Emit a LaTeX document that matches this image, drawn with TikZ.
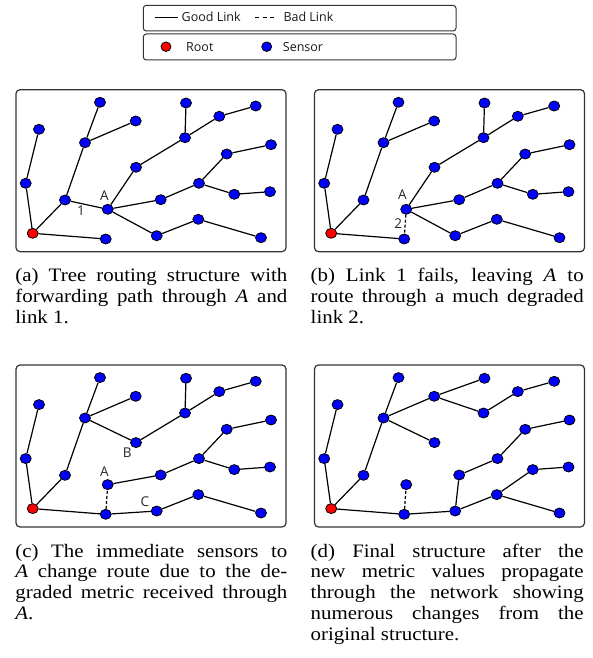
\documentclass[tikz,border=0pt]{standalone}
\usepackage{fontspec}
\setmainfont{Liberation Serif}[FakeStretch=1.1]
\newfontfamily\lgfont{Open Sans}
\usetikzlibrary{shapes.geometric}
\tikzset{
  sensor/.style={draw=black, line width=0.8pt, fill=blue, ellipse, minimum width=11pt, minimum height=10pt, inner sep=0pt},
  rootnode/.style={sensor, fill=red},
  link/.style={line width=1.2pt, black},
  badlink/.style={line width=1.2pt, black, dash pattern=on 3pt off 2pt},
  panelbox/.style={draw=black!80, line width=1.2pt, rounded corners=4pt},
  legbox/.style={draw=black!80, line width=1pt, rounded corners=3pt},
  lbl/.style={font=\lgfont\fontsize{13.5}{15}\selectfont, inner sep=0pt, text=black!85},
  legtext/.style={font=\lgfont\fontsize{12.5}{14}\selectfont, inner sep=0pt, anchor=base west, text=black!90},
  captext/.style={font=\fontsize{19}{21}\selectfont, inner sep=0pt, anchor=base west},
}
\newcommand\mknodes[1]{%
  \node[rootnode] (#1n1) at (32.7,233.3) {};
  \node[sensor] (#1n2) at (105.7,239) {};
  \node[sensor] (#1n3) at (25.7,183.3) {};
  \node[sensor] (#1n4) at (39,129.3) {};
  \node[sensor] (#1n5) at (65,200) {};
  \node[sensor] (#1n6) at (85,142.7) {};
  \node[sensor] (#1n7) at (100,102.3) {};
  \node[sensor] (#1n8) at (135.7,121) {};
  \node[sensor] (#1nA) at (107.7,209.3) {};
  \node[sensor] (#1n10) at (136,167.3) {};
  \node[sensor] (#1n11) at (185,137.7) {};
  \node[sensor] (#1n12) at (186,103) {};
  \node[sensor] (#1n13) at (219.3,116.3) {};
  \node[sensor] (#1n14) at (255.7,106) {};
  \node[sensor] (#1n15) at (160.7,199.7) {};
  \node[sensor] (#1n16) at (199,183.3) {};
  \node[sensor] (#1n17) at (226.7,154) {};
  \node[sensor] (#1n18) at (271,144.7) {};
  \node[sensor] (#1n19) at (234.3,194.3) {};
  \node[sensor] (#1n20) at (270,191.7) {};
  \node[sensor] (#1n21) at (156.7,235.7) {};
  \node[sensor] (#1n22) at (198.3,219.3) {};
  \node[sensor] (#1n23) at (261,237.7) {};
  \draw[link] (#1n1)--(#1n3) (#1n3)--(#1n4) (#1n1)--(#1n5) (#1n5)--(#1n6)
              (#1n6)--(#1n7) (#1n6)--(#1n8) (#1n1)--(#1n2);
}
\newcommand\panelframe{\draw[panelbox] (16,89.7) rectangle (286,251.7);}
\begin{document}
\begin{tikzpicture}[x=1pt,y=-1pt]
\useasboundingbox (0,0) rectangle (593,658);

% legend
\draw[legbox] (143.3,5.3) rectangle (456,31);
\draw[legbox] (143.3,34) rectangle (456,60);
\coordinate (g1) at (155,17.3); \coordinate (g2) at (178.3,17.3);
\draw[line width=0.8pt] (g1) -- (g2);
\node[legtext] (tgood) at (181.5,21.8) {Good Link};
\coordinate (b1) at (255,17.3); \coordinate (b2) at (277,17.3);
\draw[line width=0.8pt, dash pattern=on 4pt off 3.5pt] (b1) -- (b2);
\node[legtext] (tbad) at (283.3,21.8) {Bad Link};
\node[rootnode, minimum width=10pt, minimum height=9.5pt] (lroot) at (166,46.7) {};
\node[legtext] (troot) at (186,51.2) {Root};
\node[sensor, minimum width=10pt, minimum height=9.5pt] (lsens) at (266.7,46.7) {};
\node[legtext] (tsens) at (282.7,51.2) {Sensor};

% panel (a)
\begin{scope}
  \panelframe
  \mknodes{a}
  \draw[link] (an5)--(anA) (anA)--(an10) (an10)--(an11) (an11)--(an12) (an11)--(an13)
    (an13)--(an14) (anA)--(an15) (an15)--(an16) (an16)--(an17) (an17)--(an18)
    (an16)--(an19) (an19)--(an20) (anA)--(an21) (an21)--(an22) (an22)--(an23);
  \node[lbl] (aA) at (104.3,195.7) {A};
  \node[lbl] (a1) at (81,211) {1};
\end{scope}

% panel (b)
\begin{scope}[shift={(298.5,0)}]
  \panelframe
  \mknodes{b}
  \draw[link] (bnA)--(bn10) (bn10)--(bn11) (bn11)--(bn12) (bn11)--(bn13)
    (bn13)--(bn14) (bnA)--(bn15) (bn15)--(bn16) (bn16)--(bn17) (bn17)--(bn18)
    (bn16)--(bn19) (bn19)--(bn20) (bnA)--(bn21) (bn21)--(bn22) (bn22)--(bn23);
  \draw[badlink] (bnA)--(bn2);
  \node[lbl] (bA) at (103.8,195) {A};
  \node[lbl] (b2l) at (99.8,223.3) {2};
\end{scope}

% panel (c)
\begin{scope}[shift={(0,275.3)}]
  \panelframe
  \mknodes{c}
  \draw[link] (cn6)--(cn10) (cn10)--(cn11) (cn11)--(cn12) (cn11)--(cn13)
    (cn13)--(cn14) (cnA)--(cn15) (cn15)--(cn16) (cn16)--(cn17) (cn17)--(cn18)
    (cn16)--(cn19) (cn19)--(cn20) (cn2)--(cn21) (cn21)--(cn22) (cn22)--(cn23);
  \draw[badlink] (cn2)--(cnA);
  \node[lbl] (cB) at (127.3,177.2) {B};
  \node[lbl] (cA) at (104.3,196.2) {A};
  \node[lbl] (cC) at (145,226.2) {C};
\end{scope}

% panel (d)
\begin{scope}[shift={(298.5,275.3)}]
  \panelframe
  \mknodes{d}
  \draw[link] (dn6)--(dn10) (dn8)--(dn12) (dn8)--(dn11) (dn11)--(dn13)
    (dn13)--(dn14) (dn2)--(dn21) (dn21)--(dn15) (dn15)--(dn16) (dn16)--(dn17)
    (dn17)--(dn18) (dn21)--(dn22) (dn22)--(dn19) (dn19)--(dn20) (dn22)--(dn23);
  \draw[badlink] (dn2)--(dnA);
\end{scope}

% captions
\node[captext] (ca1) at (15.2,281.7) {\makebox[272pt][s]{(a) Tree routing structure with}};
\node[captext] (ca2) at (15.2,302.5) {\makebox[272pt][s]{forwarding path through \textit{A} and}};
\node[captext] (ca3) at (15.2,323.3) {link 1.};

\node[captext] (cb1) at (310.5,281.7) {\makebox[273pt][s]{(b) Link 1 fails, leaving \textit{A} to}};
\node[captext] (cb2) at (310.5,302.5) {\makebox[273pt][s]{route through a much degraded}};
\node[captext] (cb3) at (310.5,323.3) {link 2.};

\node[captext] (cc1) at (15.2,557) {\makebox[272pt][s]{(c) The immediate sensors to}};
\node[captext] (cc2) at (15.2,577.8) {\makebox[272pt][s]{\textit{A} change route due to the de-}};
\node[captext] (cc3) at (15.2,598.6) {\makebox[272pt][s]{graded metric received through}};
\node[captext] (cc4) at (15.2,619.4) {\textit{A}.};

\node[captext] (cd1) at (310.5,557) {\makebox[273pt][s]{(d) Final structure after the}};
\node[captext] (cd2) at (310.5,577.8) {\makebox[273pt][s]{new metric values propagate}};
\node[captext] (cd3) at (310.5,598.6) {\makebox[273pt][s]{through the network showing}};
\node[captext] (cd4) at (310.5,619.4) {\makebox[273pt][s]{numerous changes from the}};
\node[captext] (cd5) at (310.5,640.2) {original structure.};
\end{tikzpicture}
\end{document}
